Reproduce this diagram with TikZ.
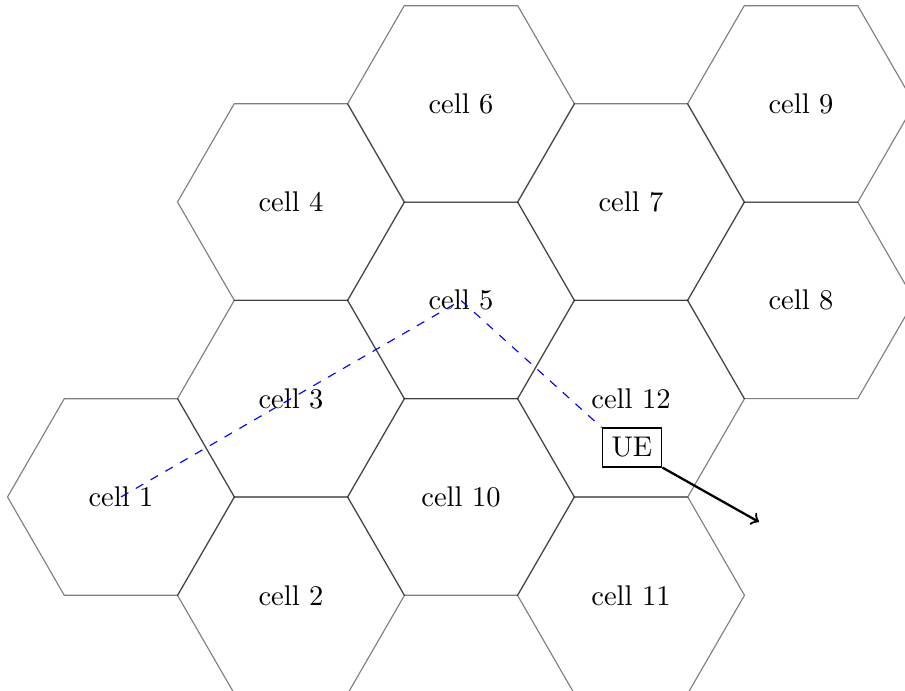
\documentclass[tikz,border=0pt]{standalone}
\begin{document}
\begin{tikzpicture}[x=0.351pt,y=0.351pt,
  hexline/.style={draw=black,draw opacity=0.5,line width=0.4pt},
  celllabel/.style={inner sep=0pt},
  uebox/.style={draw,inner sep=3.33pt},
  route/.style={blue,dashed},
  motion/.style={->,thick}]
\useasboundingbox (0,0) rectangle (905,691);
\clip (0,0) rectangle (905,691);
\def\R{113.5}
\foreach \n/\cx/\cy in {1/121/194,2/291/95.7,3/291/292.3,4/291/489,5/461/390.6,6/461/587,7/631/489,8/801/390.6,9/801/587,10/461/194,11/631/95.7,12/631/292.3}{
  \draw[hexline] (\cx,\cy) +(0:\R) -- +(60:\R) -- +(120:\R) -- +(180:\R) -- +(240:\R) -- +(300:\R) -- cycle;
  \node[celllabel] (c\n) at (\cx,\cy) {cell \n};
}
\node[uebox] (ue) at (632,243.5) {UE};
\coordinate (dest) at (759,169);
\draw[route] (c1.center) -- (c5.center) -- (ue.north west);
\draw[motion] (ue.south east) -- (dest);
\end{tikzpicture}
\end{document}
